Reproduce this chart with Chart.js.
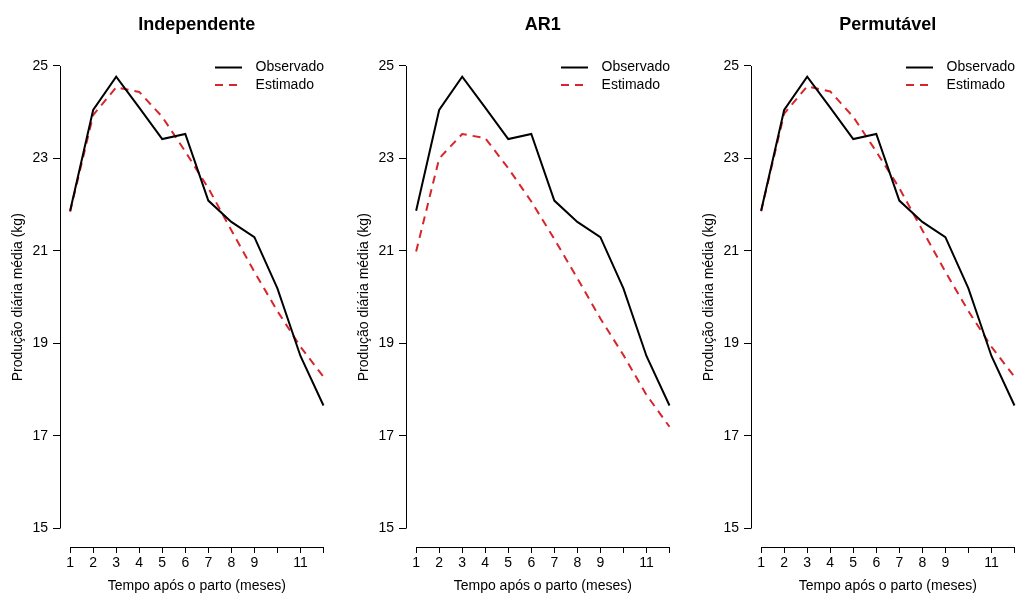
<!DOCTYPE html>
<html lang="pt">
<head>
  <meta charset="UTF-8">
  <title>Produção diária média - Observado x Estimado</title>
  <script src="https://cdn.jsdelivr.net/npm/chart.js"></script>
  <style>
    html, body {
      margin: 0;
      padding: 0;
      background: #fff;
      overflow: hidden;
    }
    .wrap {
      position: relative;
      width: 1020px;
      height: 594px;
      overflow: hidden;
    }
    .panel {
      position: absolute;
      top: 0;
      width: 340px;
      height: 594px;
    }
  </style>
</head>
<body>
  <div class="wrap">
    <canvas id="painel1" class="panel" width="340" height="594" style="left:0px"></canvas>
    <canvas id="painel2" class="panel" width="340" height="594" style="left:346px"></canvas>
    <canvas id="painel3" class="panel" width="340" height="594" style="left:691px"></canvas>
  </div>

  <script>
    // Dados
    const meses = [1, 2, 3, 4, 5, 6, 7, 8, 9, 10, 11, 12];
    const xTickLabels = ['1', '2', '3', '4', '5', '6', '7', '8', '9', '', '11', ''];
    const yTicks = [15, 17, 19, 21, 23, 25];
    const titulos = ['Independente', 'AR1', 'Permutável'];
    const legendLabels = ['Observado', 'Estimado'];

    const observado = [21.87, 24.05, 24.77, 24.10, 23.42, 23.53, 22.09, 21.63, 21.30, 20.19, 18.73, 17.66];
    const estIndependente = [21.85, 23.94, 24.54, 24.44, 23.90, 23.15, 22.36, 21.45, 20.55, 19.70, 18.93, 18.28];
    const estAR1 = [20.99, 23.00, 23.53, 23.44, 22.79, 22.07, 21.26, 20.41, 19.54, 18.75, 17.89, 17.20];
    const estPermutavel = [21.86, 23.97, 24.56, 24.45, 23.90, 23.15, 22.36, 21.45, 20.55, 19.70, 18.93, 18.28];

    const corObs = '#000000';
    const corEst = '#d7262b';
    const tracejado = [8, 6];

    Chart.defaults.font.family = "'Liberation Sans', Arial, sans-serif";
    Chart.defaults.font.size = 14;
    Chart.defaults.color = '#000';

    // eixos no estilo do R (linha só entre o primeiro e o último tick), título e legenda
    const estiloR = {
      id: 'estiloR',
      afterDraw(chart, args, opts) {
        const ctx = chart.ctx;
        const a = chart.chartArea;
        const x = chart.scales.x;
        const y = chart.scales.y;
        ctx.save();
        ctx.strokeStyle = '#000';
        ctx.lineWidth = 1;
        ctx.setLineDash([]);

        const xl = Math.round(a.left) + 0.5;
        ctx.beginPath();
        ctx.moveTo(xl, y.getPixelForValue(yTicks[0]));
        ctx.lineTo(xl, y.getPixelForValue(yTicks[yTicks.length - 1]));
        ctx.stroke();

        const yb = Math.round(a.bottom) + 0.5;
        ctx.beginPath();
        ctx.moveTo(x.getPixelForValue(meses[0]), yb);
        ctx.lineTo(x.getPixelForValue(meses[meses.length - 1]), yb);
        ctx.stroke();

        // título
        ctx.fillStyle = '#000';
        ctx.font = "bold 18px 'Liberation Sans', Arial, sans-serif";
        ctx.textAlign = 'center';
        ctx.textBaseline = 'middle';
        ctx.fillText(opts.titulo, (a.left + a.right) / 2, 25);

        // legenda (topright, sem caixa)
        ctx.font = "14px 'Liberation Sans', Arial, sans-serif";
        ctx.textAlign = 'left';
        const cores = [corObs, corEst];
        const dashes = [[], tracejado];
        legendLabels.forEach((lab, i) => {
          const ly = a.top + 20 + i * 17.5;
          ctx.strokeStyle = cores[i];
          ctx.lineWidth = 2;
          ctx.setLineDash(dashes[i]);
          ctx.beginPath();
          ctx.moveTo(a.right - 118.6, ly);
          ctx.lineTo(a.right - 91.6, ly);
          ctx.stroke();
          ctx.setLineDash([]);
          ctx.fillText(lab, a.right - 78, ly);
        });
        ctx.restore();
      }
    };

    function makePanel(id, titulo, estimado) {
      const ctx = document.getElementById(id).getContext('2d');
      return new Chart(ctx, {
        type: 'line',
        data: {
          datasets: [{
            label: legendLabels[0],
            data: meses.map((m, i) => ({ x: m, y: observado[i] })),
            borderColor: corObs,
            borderWidth: 2,
            pointRadius: 0,
            tension: 0,
            fill: false
          }, {
            label: legendLabels[1],
            data: meses.map((m, i) => ({ x: m, y: estimado[i] })),
            borderColor: corEst,
            borderWidth: 2,
            borderDash: tracejado,
            pointRadius: 0,
            tension: 0,
            fill: false
          }]
        },
        options: {
          responsive: false,
          animation: false,
          events: [],
          layout: { padding: { top: 47.5, right: 6.4, bottom: 0, left: 0 } },
          plugins: {
            legend: { display: false },
            tooltip: { enabled: false },
            estiloR: { titulo: titulo }
          },
          scales: {
            x: {
              type: 'linear',
              min: 0.56,
              max: 12.44,
              afterBuildTicks: s => { s.ticks = meses.map(v => ({ value: v })); },
              afterFit: s => { s.height = 47; },
              grid: { drawOnChartArea: false, drawTicks: true, tickLength: 6, color: '#000' },
              border: { display: false },
              ticks: {
                autoSkip: false,
                maxRotation: 0,
                padding: 2,
                color: '#000',
                callback: v => xTickLabels[meses.indexOf(v)]
              },
              title: {
                display: true,
                text: 'Tempo após o parto (meses)',
                color: '#000',
                padding: { top: 0, bottom: -1 }
              }
            },
            y: {
              min: 14.6,
              max: 25.4,
              afterBuildTicks: s => { s.ticks = yTicks.map(v => ({ value: v })); },
              afterFit: s => { s.width = 60; },
              grid: { drawOnChartArea: false, drawTicks: true, tickLength: 7, color: '#000' },
              border: { display: false },
              ticks: { padding: 5, color: '#000' },
              title: {
                display: true,
                text: 'Produção diária média (kg)',
                color: '#000',
                padding: { top: 10, bottom: 0 }
              }
            }
          }
        },
        plugins: [estiloR]
      });
    }

    makePanel('painel1', titulos[0], estIndependente);
    makePanel('painel2', titulos[1], estAR1);
    makePanel('painel3', titulos[2], estPermutavel);
  </script>
</body>
</html>
